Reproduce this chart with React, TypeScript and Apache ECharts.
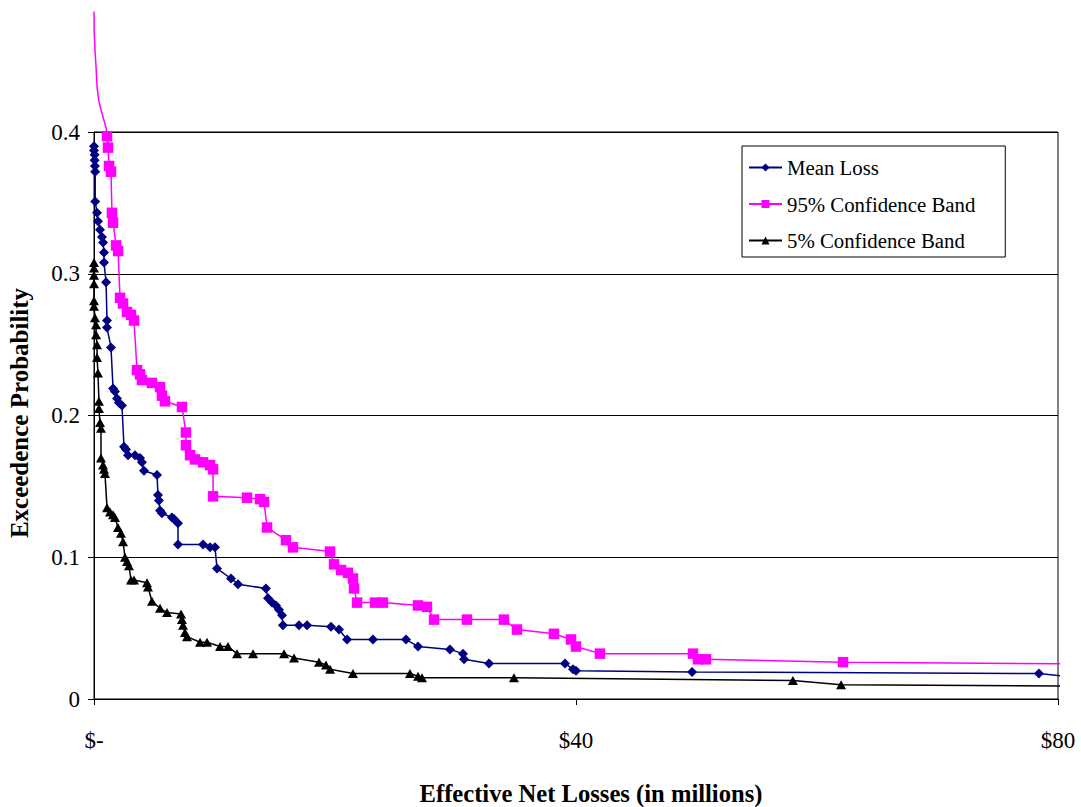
import React, { useEffect, useRef } from "react";
import * as echarts from "echarts";

// Mean Loss (navy diamonds): [loss in $ millions, exceedence probability]
const MEAN_LOSS: number[][] = [
  [0, 0.39], [0, 0.387], [0.05, 0.384], [0.05, 0.38], [0.08, 0.376], [0.1, 0.372],
  [0.1, 0.351], [0.25, 0.343], [0.33, 0.337], [0.5, 0.331], [0.66, 0.326], [0.75, 0.322],
  [0.83, 0.315], [0.83, 0.308], [1.0, 0.294], [1.08, 0.267], [1.08, 0.262], [1.41, 0.248],
  [1.58, 0.219], [1.74, 0.217], [1.91, 0.212], [2.07, 0.209], [2.32, 0.207], [2.49, 0.178],
  [2.66, 0.176], [2.82, 0.172], [3.4, 0.172], [3.82, 0.17], [3.98, 0.167], [4.15, 0.161],
  [5.23, 0.158], [5.31, 0.144], [5.39, 0.14], [5.48, 0.133], [5.64, 0.131], [6.47, 0.128],
  [6.64, 0.127], [6.97, 0.124], [6.97, 0.109], [9.05, 0.109], [9.63, 0.107], [10.04, 0.107],
  [10.21, 0.092], [11.37, 0.085], [11.95, 0.081], [14.27, 0.078], [14.44, 0.071], [14.77, 0.068],
  [15.1, 0.066], [15.35, 0.063], [15.6, 0.059], [15.68, 0.052], [17.01, 0.052], [17.68, 0.052],
  [19.67, 0.051], [20.33, 0.049], [21.0, 0.042], [23.15, 0.042], [25.89, 0.042], [26.89, 0.037],
  [29.54, 0.035], [30.62, 0.032], [30.71, 0.028], [32.78, 0.025], [39.09, 0.025], [39.75, 0.021],
  [40.0, 0.02], [49.63, 0.019], [78.42, 0.018],
];
const MEAN_TAIL: number[][] = [[85, 0.012]];

// 95% Confidence Band (magenta squares)
const HIGH_HEAD: number[][] = [
  [0, 0.485], [0.02, 0.47], [0.1, 0.455], [0.17, 0.446], [0.25, 0.432], [0.4, 0.422],
  [0.6, 0.415], [0.8, 0.409], [1.0, 0.403],
];
const HIGH_BAND: number[][] = [
  [1.08, 0.397], [1.16, 0.389], [1.25, 0.376], [1.41, 0.372], [1.49, 0.343], [1.58, 0.336],
  [1.83, 0.32], [2.0, 0.316], [2.16, 0.283], [2.41, 0.279], [2.74, 0.273], [3.07, 0.271],
  [3.32, 0.267], [3.57, 0.232], [3.82, 0.229], [3.98, 0.225], [4.81, 0.223], [5.48, 0.22],
  [5.64, 0.214], [5.89, 0.21], [7.3, 0.206], [7.63, 0.188], [7.63, 0.179], [7.97, 0.172],
  [8.38, 0.169], [9.05, 0.167], [9.63, 0.165], [9.88, 0.162], [9.88, 0.143], [12.7, 0.142],
  [13.78, 0.141], [14.11, 0.139], [14.36, 0.121], [15.93, 0.112], [16.51, 0.107], [19.59, 0.104],
  [19.92, 0.095], [20.5, 0.091], [21.08, 0.089], [21.49, 0.085], [21.58, 0.078], [21.83, 0.068],
  [23.32, 0.068], [23.98, 0.068], [26.89, 0.066], [27.63, 0.065], [28.22, 0.056], [30.95, 0.056],
  [34.02, 0.056], [35.1, 0.049], [38.17, 0.046], [39.59, 0.042], [40.0, 0.037], [41.99, 0.032],
  [49.71, 0.032], [50.12, 0.028], [50.79, 0.028], [62.16, 0.026],
];
const HIGH_TAIL: number[][] = [[85, 0.0245]];

// 5% Confidence Band (black triangles)
const LOW_BAND: number[][] = [
  [0, 0.308], [0, 0.304], [0, 0.299], [0, 0.293], [0, 0.281], [0, 0.277], [0.08, 0.269],
  [0.17, 0.264], [0.17, 0.257], [0.25, 0.25], [0.25, 0.241], [0.33, 0.23], [0.41, 0.21],
  [0.41, 0.205], [0.5, 0.195], [0.58, 0.191], [0.58, 0.17], [0.75, 0.165], [0.83, 0.162],
  [0.91, 0.159], [1.08, 0.135], [1.33, 0.132], [1.58, 0.13], [1.74, 0.128], [1.99, 0.121],
  [2.24, 0.117], [2.41, 0.111], [2.57, 0.1], [2.74, 0.097], [2.9, 0.094], [3.07, 0.084],
  [3.32, 0.084], [4.4, 0.082], [4.48, 0.079], [4.81, 0.069], [5.48, 0.064], [6.06, 0.061],
  [7.22, 0.06], [7.3, 0.056], [7.39, 0.052], [7.55, 0.047], [7.72, 0.044], [8.8, 0.04],
  [9.38, 0.04], [10.46, 0.037], [11.12, 0.037], [11.87, 0.032], [13.2, 0.032], [15.77, 0.032],
  [16.6, 0.029], [18.67, 0.026], [19.25, 0.024], [19.59, 0.021], [21.49, 0.018], [26.22, 0.018],
  [26.89, 0.016], [27.22, 0.015], [34.85, 0.015], [58.0, 0.013], [62.0, 0.01],
];
const LOW_TAIL: number[][] = [[85, 0.009]];

const SERIES_NAMES = ["Mean Loss", "95% Confidence Band", "5% Confidence Band"];
const X_TICK_LABELS: Record<number, string> = { 0: "$-", 40: "$40", 80: "$80" };
const X_TITLE = "Effective Net Losses (in millions)";
const Y_TITLE = "Exceedence Probability";

const FONT = "'Liberation Serif', 'Times New Roman', serif";

const plain = (pts: number[][]) => pts.map((p) => ({ value: p, symbol: "none" }));

export default function App() {
  const ref = useRef<HTMLDivElement>(null);

  useEffect(() => {
    if (!ref.current) return;
    const chart = echarts.init(ref.current, undefined, { renderer: "svg" });
    const option: any = {
      animation: false,
      backgroundColor: "#ffffff",
      textStyle: { fontFamily: FONT, color: "#000" },
      grid: {
        left: 94,
        right: 23,
        top: 132,
        bottom: 108,
        show: true,
        borderColor: "#000",
        borderWidth: 1,
      },
      legend: {
        orient: "vertical",
        left: 742,
        top: 146,
        padding: [11, 30, 6, 6],
        itemGap: 15.5,
        itemWidth: 33,
        itemHeight: 10,
        borderColor: "#000",
        borderWidth: 1,
        backgroundColor: "#fff",
        data: SERIES_NAMES,
        textStyle: { fontFamily: FONT, fontSize: 20.8, color: "#000", lineHeight: 20 },
      },
      xAxis: {
        type: "value",
        min: 0,
        max: 80,
        interval: 40,
        axisLine: { show: true, onZero: false, lineStyle: { color: "#000", width: 1 } },
        axisTick: { show: true, length: 6, lineStyle: { color: "#000" } },
        splitLine: { show: false },
        axisLabel: {
          margin: 30,
          fontFamily: FONT,
          fontSize: 23,
          color: "#000",
          formatter: (v: number) => X_TICK_LABELS[v] ?? String(v),
        },
      },
      yAxis: {
        type: "value",
        min: 0,
        max: 0.4,
        interval: 0.1,
        axisLine: { show: true, lineStyle: { color: "#000", width: 1 } },
        axisTick: { show: true, length: 6, lineStyle: { color: "#000" } },
        splitLine: { show: true, lineStyle: { color: "#000", width: 1 } },
        axisLabel: {
          margin: 14,
          fontFamily: FONT,
          fontSize: 23,
          color: "#000",
          padding: [6, 0, 0, 0],
          formatter: (v: number) => (v === 0 ? "0" : v.toFixed(1)),
        },
      },
      graphic: [
        {
          type: "text",
          x: 591,
          y: 793,
          style: {
            text: X_TITLE,
            fontFamily: FONT,
            fontSize: 24.6,
            fontWeight: "bold",
            fill: "#000",
            textAlign: "center",
            textVerticalAlign: "middle",
          },
        },
        {
          type: "text",
          x: 19,
          y: 413,
          rotation: Math.PI / 2,
          style: {
            text: Y_TITLE,
            fontFamily: FONT,
            fontSize: 25,
            fontWeight: "bold",
            fill: "#000",
            textAlign: "center",
            textVerticalAlign: "middle",
          },
        },
      ],
      series: [
        {
          name: SERIES_NAMES[0],
          type: "line",
          clip: false,
          symbol: "diamond",
          symbolSize: 10,
          color: "#000080",
          lineStyle: { color: "#000080", width: 1.5 },
          itemStyle: { color: "#000080" },
          data: [...MEAN_LOSS.map((p) => ({ value: p })), ...plain(MEAN_TAIL)],
          z: 2,
        },
        {
          name: SERIES_NAMES[1],
          type: "line",
          clip: false,
          symbol: "rect",
          symbolSize: 10.5,
          color: "#ff00ff",
          lineStyle: { color: "#ff00ff", width: 1.5 },
          itemStyle: { color: "#ff00ff" },
          data: [...plain(HIGH_HEAD), ...HIGH_BAND.map((p) => ({ value: p })), ...plain(HIGH_TAIL)],
          z: 3,
        },
        {
          name: SERIES_NAMES[2],
          type: "line",
          clip: false,
          symbol: "triangle",
          symbolSize: [10, 9],
          color: "#000000",
          lineStyle: { color: "#000000", width: 1.5 },
          itemStyle: { color: "#000000" },
          data: [...LOW_BAND.map((p) => ({ value: p })), ...plain(LOW_TAIL)],
          z: 4,
        },
      ],
    };
    chart.setOption(option);
    return () => chart.dispose();
  }, []);

  return (
    <div
      ref={ref}
      style={{ position: "fixed", left: 0, top: 0, width: 1081, height: 807, background: "#fff" }}
    />
  );
}
